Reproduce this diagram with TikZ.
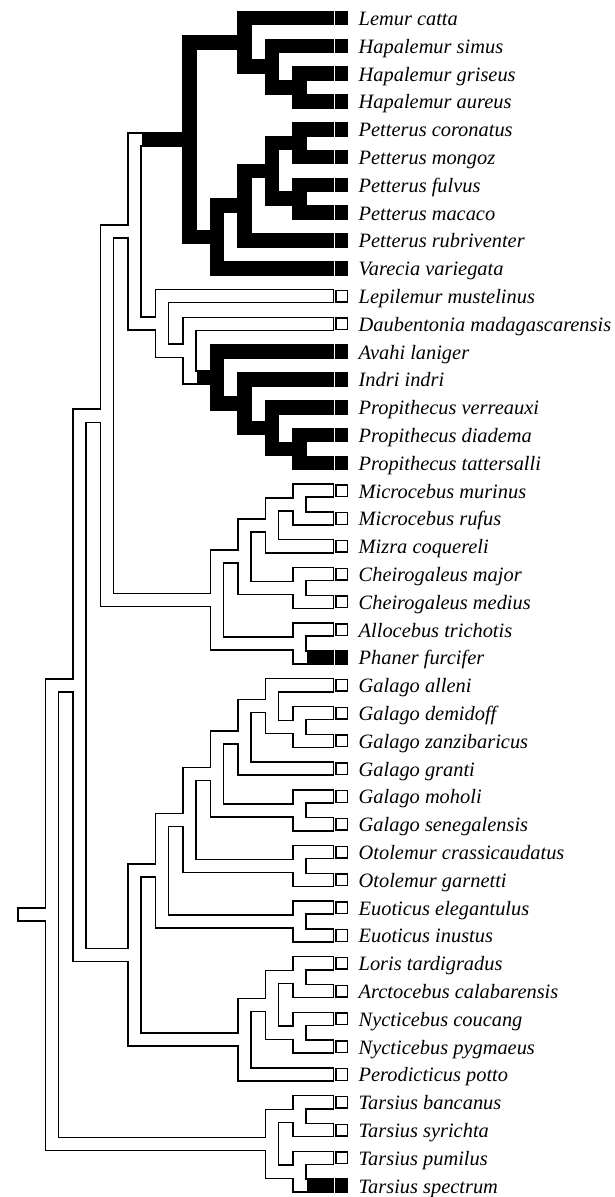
\documentclass[tikz,border=0pt]{standalone}
\usepackage{fontspec}
\setmainfont{Liberation Serif}
\usetikzlibrary{calc}
\newcommand\clade[4]{\path let \p1=(#3), \p2=(#4) in ({(24.5+27.5*#2)*1pt},{0.5*(\y1+\y2)}) coordinate (#1);}
\begin{document}
\begin{tikzpicture}[x=1pt,y=-1pt,
  outer/.style={line width=14.6pt, line join=miter, line cap=butt},
  inner/.style={white, line width=11.6pt, line join=miter, line cap=butt, shorten <=1.5pt, shorten >=1.5pt},
  lab/.style={anchor=base west, inner sep=0pt, font=\fontsize{20.4}{24}\selectfont\itshape},
  sqb/.style={fill=black, minimum width=13pt, minimum height=14.6pt, inner sep=0pt},
  sqw/.style={draw=black, fill=white, line width=1.4pt, minimum width=11.6pt, minimum height=11.6pt, inner sep=0pt}]
\useasboundingbox (0,0) rectangle (615,1197);
\foreach \i in {1,...,43} \coordinate (t\i) at (334,{18+27.8*(\i-1)});
% Lemuridae
\clade{hg}{10}{t3}{t4}
\clade{hap}{9}{t2}{hg}
\clade{lem}{8}{t1}{hap}
\clade{p1}{10}{t5}{t6}
\clade{p2}{10}{t7}{t8}
\clade{p12}{9}{p1}{p2}
\clade{p3}{8}{p12}{t9}
\clade{pv}{7}{p3}{t10}
\clade{lemur}{6}{lem}{pv}
% Indriidae etc.
\clade{ig}{10}{t16}{t17}
\clade{ifn}{9}{t15}{ig}
\clade{ie}{8}{t14}{ifn}
\clade{ind}{7}{t13}{ie}
\clade{cc}{6}{t12}{ind}
\clade{bb}{5}{t11}{cc}
\clade{aa}{4}{lemur}{bb}
% Cheirogaleidae
\clade{mic}{10}{t18}{t19}
\clade{mx}{9}{mic}{t20}
\clade{che}{10}{t21}{t22}
\clade{m8}{8}{mx}{che}
\clade{ap}{10}{t23}{t24}
\clade{cheiro}{7}{m8}{ap}
\clade{n3}{3}{aa}{cheiro}
% Galagidae
\clade{gdz}{10}{t26}{t27}
\clade{ga}{9}{t25}{gdz}
\clade{gb}{8}{ga}{t28}
\clade{gms}{10}{t29}{t30}
\clade{gc}{7}{gb}{gms}
\clade{oto}{10}{t31}{t32}
\clade{gd}{6}{gc}{oto}
\clade{euo}{10}{t33}{t34}
\clade{gal}{5}{gd}{euo}
% Lorisidae
\clade{la}{10}{t35}{t36}
\clade{nyc}{10}{t37}{t38}
\clade{lan}{9}{la}{nyc}
\clade{lor}{8}{lan}{t39}
\clade{lorisif}{4}{gal}{lor}
\clade{n2}{2}{n3}{lorisif}
% Tarsius
\clade{tbs}{10}{t40}{t41}
\clade{tps}{10}{t42}{t43}
\clade{tar}{9}{tbs}{tps}
\clade{root}{1}{n2}{tar}
\coordinate (stub) at ($(root)+(-34.7pt,0)$);
% pass 1: all bands in black
\foreach \n/\a/\b in {hg/t3/t4, hap/t2/hg, lem/t1/hap, p1/t5/t6, p2/t7/t8, p12/p1/p2, p3/p12/t9, pv/p3/t10, lemur/lem/pv,
  ig/t16/t17, ifn/t15/ig, ie/t14/ifn, ind/t13/ie, cc/t12/ind, bb/t11/cc, aa/lemur/bb,
  mic/t18/t19, mx/mic/t20, che/t21/t22, m8/mx/che, ap/t23/t24, cheiro/m8/ap, n3/aa/cheiro,
  gdz/t26/t27, ga/t25/gdz, gb/ga/t28, gms/t29/t30, gc/gb/gms, oto/t31/t32, gd/gc/oto, euo/t33/t34, gal/gd/euo,
  la/t35/t36, nyc/t37/t38, lan/la/nyc, lor/lan/t39, lorisif/gal/lor, n2/n3/lorisif,
  tbs/t40/t41, tps/t42/t43, tar/tbs/tps, root/n2/tar}
  \draw[outer] (\a) -| (\n) |- (\b);
\draw[outer] (stub) -- (root);
% pass 2: white interiors
\foreach \n/\a/\b in {cc/t12/ind, bb/t11/cc, aa/lemur/bb,
  mic/t18/t19, mx/mic/t20, che/t21/t22, m8/mx/che, ap/t23/t24, cheiro/m8/ap, n3/aa/cheiro,
  gdz/t26/t27, ga/t25/gdz, gb/ga/t28, gms/t29/t30, gc/gb/gms, oto/t31/t32, gd/gc/oto, euo/t33/t34, gal/gd/euo,
  la/t35/t36, nyc/t37/t38, lan/la/nyc, lor/lan/t39, lorisif/gal/lor, n2/n3/lorisif,
  tbs/t40/t41, tps/t42/t43, tar/tbs/tps, root/n2/tar}
  \draw[inner] (\a) -| (\n) |- (\b);
\draw[inner] (stub) -- (root);
% pass 3: black branches leaving white nodes
\draw[outer] ($(aa |- lemur)+(7.3pt,0)$) -- (lemur);
\draw[outer] ($(cc |- ind)+(7.3pt,0)$) -- (ind);
\draw[outer] ($(ap |- t24)+(7.3pt,0)$) -- (t24);
\draw[outer] ($(tps |- t43)+(7.3pt,0)$) -- (t43);
% tip squares
\foreach \i in {1,...,10,13,14,15,16,17,24,43}
  \node[sqb] (s\i) at ($(t\i)+(7.8pt,0)$) {};
\foreach \i in {11,12,18,19,20,21,22,23,25,26,27,28,29,30,31,32,33,34,35,36,37,38,39,40,41,42}
  \node[sqw] (s\i) at ($(t\i)+(7.8pt,0)$) {};
% labels
\foreach \i/\txt in {1/Lemur catta, 2/Hapalemur simus, 3/Hapalemur griseus, 4/Hapalemur aureus,
  5/Petterus coronatus, 6/Petterus mongoz, 7/Petterus fulvus, 8/Petterus macaco, 9/Petterus rubriventer,
  10/Varecia variegata, 11/Lepilemur mustelinus, 12/Daubentonia madagascarensis, 13/Avahi laniger,
  14/Indri indri, 15/Propithecus verreauxi, 16/Propithecus diadema, 17/Propithecus tattersalli,
  18/Microcebus murinus, 19/Microcebus rufus, 20/Mizra coquereli, 21/Cheirogaleus major,
  22/Cheirogaleus medius, 23/Allocebus trichotis, 24/Phaner furcifer, 25/Galago alleni,
  26/Galago demidoff, 27/Galago zanzibaricus, 28/Galago granti, 29/Galago moholi,
  30/Galago senegalensis, 31/Otolemur crassicaudatus, 32/Otolemur garnetti, 33/Euoticus elegantulus,
  34/Euoticus inustus, 35/Loris tardigradus, 36/Arctocebus calabarensis, 37/Nycticebus coucang,
  38/Nycticebus pygmaeus, 39/Perodicticus potto, 40/Tarsius bancanus, 41/Tarsius syrichta,
  42/Tarsius pumilus, 43/Tarsius spectrum}
  \node[lab] (l\i) at ($(t\i)+(24.5pt,-7.5pt)$) {\txt};
\end{tikzpicture}
\end{document}
